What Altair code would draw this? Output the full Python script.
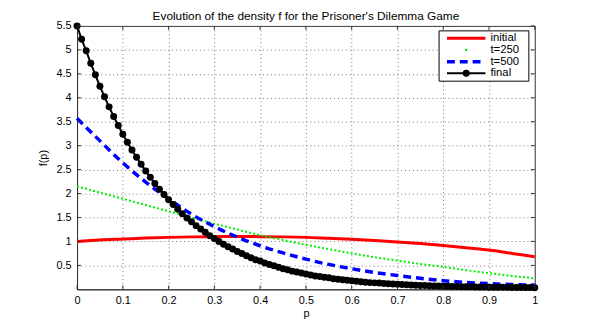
import altair as alt
import pandas as pd

# ---------------- data ----------------
p_fine = [round(i * 0.01, 2) for i in range(101)]
final_vals = [
    5.50, 5.22, 4.98, 4.72, 4.48, 4.24, 4.02, 3.81, 3.61, 3.42,
    3.24, 3.07, 2.91, 2.76, 2.61, 2.47, 2.34, 2.21, 2.09, 1.98,
    1.87, 1.77, 1.67, 1.58, 1.49, 1.41, 1.33, 1.26, 1.19, 1.12,
    1.06, 1.00, 0.94, 0.89, 0.84, 0.79, 0.75, 0.70, 0.66, 0.62,
    0.59, 0.55, 0.52, 0.49, 0.46, 0.43, 0.41, 0.38, 0.36, 0.34,
    0.32, 0.30, 0.28, 0.27, 0.25, 0.24, 0.22, 0.21, 0.20, 0.19,
    0.18, 0.17, 0.16, 0.15, 0.14, 0.135, 0.13, 0.12, 0.115, 0.11,
    0.105, 0.10, 0.095, 0.09, 0.085, 0.08, 0.078, 0.075, 0.072, 0.069,
    0.066, 0.063, 0.06, 0.058, 0.056, 0.054, 0.052, 0.05, 0.048, 0.047,
    0.045, 0.044, 0.043, 0.042, 0.041, 0.04, 0.039, 0.038, 0.037, 0.036,
    0.035,
]
p_coarse = [round(i * 0.05, 2) for i in range(21)]
initial_vals = [1.00, 1.03, 1.05, 1.07, 1.085, 1.095, 1.10, 1.105, 1.10, 1.095,
                1.085, 1.065, 1.045, 1.02, 0.99, 0.955, 0.915, 0.87, 0.82, 0.75, 0.68]
t250_vals = [2.15, 2.02, 1.89, 1.76, 1.63, 1.50, 1.37, 1.25, 1.13, 1.03,
             0.93, 0.84, 0.75, 0.67, 0.60, 0.53, 0.47, 0.40, 0.34, 0.28, 0.23]
t500_vals = [3.57, 3.10, 2.64, 2.24, 1.89, 1.57, 1.31, 1.09, 0.91, 0.76,
             0.63, 0.52, 0.43, 0.35, 0.29, 0.23, 0.18, 0.145, 0.12, 0.10, 0.09]

x_ticks = [round(i * 0.1, 1) for i in range(11)]
y_ticks = [round(0.5 * i, 1) for i in range(1, 12)]
legend_labels = ["initial", "t=250", "t=500", "final"]
title_text = "Evolution of the density f for the Prisoner's Dilemma Game"

W, H = 464, 267
FONT = "Liberation Sans"

xs = alt.Scale(domain=[0, 1], nice=False, zero=False)
ys = alt.Scale(domain=[0, 5.5], nice=False, zero=False)

df_fine = pd.DataFrame({"p": p_fine, "f": final_vals})
df_c = pd.DataFrame({"p": p_coarse, "ini": initial_vals, "t250": t250_vals, "t500": t500_vals})

xaxis = alt.Axis(values=x_ticks, format="~g", grid=True, gridDash=[1, 3], gridColor="#777",
                 gridWidth=1, tickSize=0, labelPadding=5, titlePadding=3,
                 domainColor="#333", labelFont=FONT, titleFont=FONT, labelFontSize=11,
                 titleFontSize=11, titleFontWeight="normal", labelColor="#000", titleColor="#000",
                 labelFlush=False)
yaxis = alt.Axis(values=y_ticks, format="~g", grid=True, gridDash=[1, 3], gridColor="#777",
                 gridWidth=1, tickSize=0, labelPadding=6, titlePadding=8,
                 domainColor="#333", labelFont=FONT, titleFont=FONT, labelFontSize=11,
                 titleFontSize=11, titleFontWeight="normal", labelColor="#000", titleColor="#000",
                 labelFlush=False)


def X(field):
    return alt.X(field, type="quantitative", scale=xs, axis=xaxis, title="p")


def Y(field):
    return alt.Y(field, type="quantitative", scale=ys, axis=yaxis, title="f(p)")


base_c = alt.Chart(df_c)
red = base_c.mark_line(color="#ff0000", strokeWidth=3, interpolate="monotone").encode(
    x=X("p"), y=Y("ini"))
green = base_c.mark_line(color="#00ee00", strokeWidth=2, strokeDash=[2, 2.2],
                         interpolate="monotone").encode(x=X("p"), y=Y("t250"))
blue = base_c.mark_line(color="#0000ff", strokeWidth=3.5, strokeDash=[8, 5],
                        interpolate="monotone").encode(x=X("p"), y=Y("t500"))
black_line = alt.Chart(df_fine).mark_line(color="#000", strokeWidth=2).encode(x=X("p"), y=Y("f"))
black_pts = alt.Chart(df_fine).mark_point(color="#000", filled=True, opacity=1, size=50).encode(
    x=X("p"), y=Y("f"))

# inward tick marks on all four sides
dxt = pd.DataFrame({"v": x_ticks})
dyt = pd.DataFrame({"v": y_ticks})
tick_style = dict(color="#333", strokeWidth=1)
tx_b = alt.Chart(dxt).mark_rule(**tick_style).encode(x=X("v"), y=alt.value(H - 4), y2=alt.value(H))
tx_t = alt.Chart(dxt).mark_rule(**tick_style).encode(x=X("v"), y=alt.value(0), y2=alt.value(4))
ty_l = alt.Chart(dyt).mark_rule(**tick_style).encode(y=Y("v"), x=alt.value(0), x2=alt.value(4))
ty_r = alt.Chart(dyt).mark_rule(**tick_style).encode(y=Y("v"), x=alt.value(W - 4), x2=alt.value(W))

# legend box
lx0, lx1, ly0, ly1 = 367, 458, 5, 56
one = pd.DataFrame({"a": [0]})
frame = alt.Chart(one).mark_rect(fill="white", stroke="#000", strokeWidth=1).encode(
    x=alt.value(lx0), x2=alt.value(lx1), y=alt.value(ly0), y2=alt.value(ly1))
rows = [12.5, 24.3, 36.2, 48.0]
sx0, sx1, tx = 375, 414, 419
leg_layers = [frame]
leg_layers.append(alt.Chart(one).mark_rule(color="#ff0000", strokeWidth=3).encode(
    x=alt.value(sx0), x2=alt.value(sx1), y=alt.value(rows[0])))
leg_layers.append(alt.Chart(one).mark_point(color="#00ee00", filled=True, opacity=1, size=5, shape="square").encode(
    x=alt.value((sx0 + sx1) / 2), y=alt.value(rows[1])))
leg_layers.append(alt.Chart(one).mark_rule(color="#0000ff", strokeWidth=3.5, strokeDash=[8, 5]).encode(
    x=alt.value(sx0), x2=alt.value(sx1), y=alt.value(rows[2])))
leg_layers.append(alt.Chart(one).mark_rule(color="#000", strokeWidth=2).encode(
    x=alt.value(sx0), x2=alt.value(sx1), y=alt.value(rows[3])))
leg_layers.append(alt.Chart(one).mark_point(color="#000", filled=True, opacity=1, size=50).encode(
    x=alt.value((sx0 + sx1) / 2), y=alt.value(rows[3])))
for lab, ry in zip(legend_labels, rows):
    leg_layers.append(alt.Chart(pd.DataFrame({"t": [lab]})).mark_text(
        align="left", baseline="middle", font=FONT, fontSize=11.5, color="#000").encode(
        x=alt.value(tx), y=alt.value(ry), text="t:N"))

chart = alt.layer(
    red, green, blue, black_line, black_pts, tx_b, tx_t, ty_l, ty_r, *leg_layers
).properties(
    width=W, height=H,
    title=alt.TitleParams(title_text, font=FONT, fontSize=12, fontWeight="normal",
                          color="#000", anchor="middle", offset=-3),
    autosize=alt.AutoSizeParams(type="none"),
    padding={"left": 70, "top": 16, "right": 57, "bottom": 36},
).configure(background="white", view=alt.ViewConfig(stroke="#333", strokeWidth=1))

chart.save("out.html", embed_options={"renderer": "svg", "actions": False})
